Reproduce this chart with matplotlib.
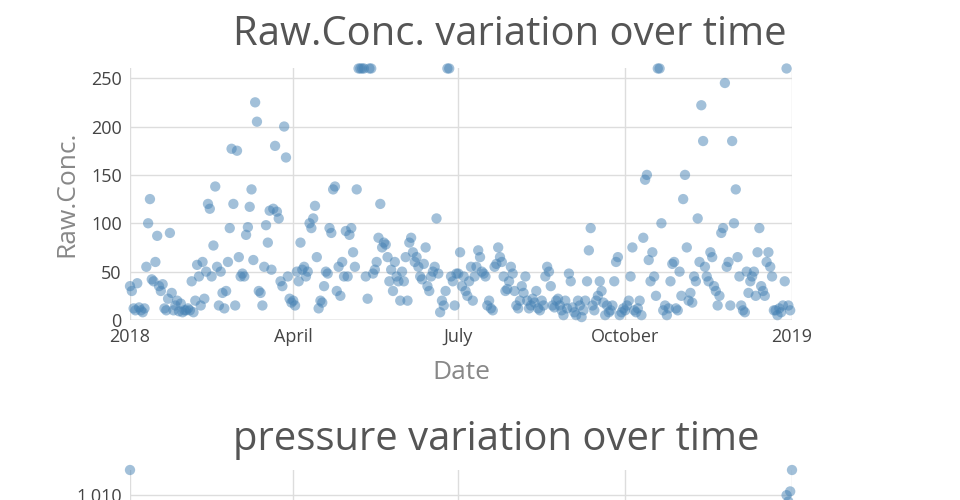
import numpy as np
import pandas as pd
import matplotlib
matplotlib.use("Agg")
import matplotlib.pyplot as plt

plt.rcParams['font.family'] = ['Open Sans', 'DejaVu Sans']

# daily raw concentration, by month (values above 260 shown at the top edge)
jan = [35, 30, 12, 10, 38, 13, 10, 8, 12, 55, 100, 125, 42, 40, 60, 87, 35, 30, 37, 12, 10, 22, 90, 28, 10, 15, 20, 9, 17, 8, 10]
feb = [10, 12, 10, 40, 8, 20, 57, 45, 15, 60, 22, 50, 120, 115, 45, 77, 138, 55, 15, 50, 28, 12, 30, 60, 95, 177, 120, 15]
mar = [175, 65, 45, 48, 45, 88, 96, 117, 135, 62, 225, 205, 30, 28, 15, 55, 98, 80, 113, 52, 115, 180, 112, 105, 40, 35, 200, 168, 45, 22, 18]
apr = [20, 15, 50, 40, 80, 52, 55, 45, 50, 100, 95, 105, 118, 65, 12, 20, 18, 35, 50, 48, 95, 90, 135, 138, 30, 55, 25, 60, 45, 92]
may = [45, 88, 95, 70, 55, 135, 260, 260, 260, 260, 45, 22, 260, 260, 48, 52, 60, 85, 120, 75, 80, 78, 65, 40, 52, 30, 60, 45, 40, 20, 50]
jun = [40, 65, 20, 80, 85, 70, 60, 65, 55, 45, 42, 58, 75, 35, 30, 45, 50, 55, 105, 48, 8, 20, 15, 30, 260, 260, 45, 40, 15, 48]
jul = [48, 70, 35, 45, 30, 25, 40, 55, 20, 45, 55, 72, 65, 50, 48, 45, 15, 20, 12, 10, 55, 58, 75, 65, 60, 45, 30, 32, 40, 55, 48]
aug = [30, 15, 12, 20, 35, 28, 45, 20, 12, 15, 22, 18, 30, 12, 10, 20, 15, 45, 55, 50, 35, 15, 13, 20, 22, 15, 10, 5, 20, 12, 48]
sep = [40, 13, 8, 5, 20, 15, 3, 10, 20, 40, 72, 95, 15, 10, 20, 25, 40, 30, 18, 5, 15, 8, 10, 15, 40, 60, 65, 5, 8, 12]
oct_ = [10, 15, 20, 45, 75, 10, 8, 12, 20, 5, 85, 145, 150, 62, 40, 70, 45, 25, 260, 260, 100, 10, 15, 5, 12, 40, 58, 60, 12, 10, 50]
nov = [25, 125, 150, 75, 20, 28, 18, 45, 40, 105, 60, 222, 185, 55, 45, 40, 70, 65, 35, 30, 15, 25, 90, 95, 245, 55, 60, 15, 185, 100]
dec = [135, 65, 45, 15, 10, 8, 50, 28, 40, 45, 50, 25, 70, 95, 35, 30, 25, 60, 70, 55, 45, 10, 10, 5, 12, 8, 15, 40, 260, 15, 10]
conc = jan + feb + mar + apr + may + jun + jul + aug + sep + oct_ + nov + dec
conc_dates = pd.date_range('2018-01-01', periods=len(conc), freq='D')

# pressure: only the top of that panel is visible
pres_dates = pd.to_datetime(['2018-01-01', '2018-12-29', '2018-12-30', '2018-12-31', '2019-01-01'])
pres = [1012, 1010, 1009.5, 1010.3, 1012]

tick_dates = pd.to_datetime(['2018-01-01', '2018-04-01', '2018-07-01', '2018-10-01', '2019-01-01'])
tick_labels = ['2018', 'April', 'July', 'October', '2019']

color = (70/255, 130/255, 180/255, 0.5)
grey = '#444444'

fig = plt.figure(figsize=(9.6, 5), dpi=100)


def style(ax):
    for s in ax.spines.values():
        s.set_visible(False)
    ax.grid(True, color='#dddddd', linewidth=1)
    ax.set_axisbelow(True)
    ax.tick_params(length=0, labelsize=13, colors=grey, pad=6)
    ax.set_xticks(tick_dates)
    ax.set_xticklabels(tick_labels)
    ax.set_xlim(pd.Timestamp('2018-01-01'), pd.Timestamp('2019-01-01'))


ax1 = fig.add_axes([130/960, 180/500, 662/960, 252/500])
style(ax1)
ax1.axhline(0, color='#bbbbbb', linewidth=1)
ax1.scatter(conc_dates, conc, s=55, color=color, edgecolors='none', clip_on=False)
ax1.set_ylim(0, 260.5)
ax1.set_yticks([0, 50, 100, 150, 200, 250])
ax1.set_ylabel('Raw.Conc.', fontsize=19, color='#888888', labelpad=8)
ax1.set_xlabel('Date', fontsize=19, color='#888888', labelpad=10)
fig.text(233/960, 1 - 35/500, 'Raw.Conc. variation over time', fontsize=28.8,
         color='#555555', ha='left', va='center')

ax2 = fig.add_axes([130/960, -222/500, 662/960, 252/500])
style(ax2)
ax2.set_xticklabels([])
ax2.scatter(pres_dates, pres, s=55, color=color, edgecolors='none', clip_on=False)
ax2.set_ylim(992, 1012)
ax2.set_yticks([1010])
ax2.set_yticklabels(['1,010'])
fig.text(233/960, 1 - 440/500, 'pressure variation over time', fontsize=28.8,
         color='#555555', ha='left', va='center')

fig.savefig('out.png', dpi=100)
